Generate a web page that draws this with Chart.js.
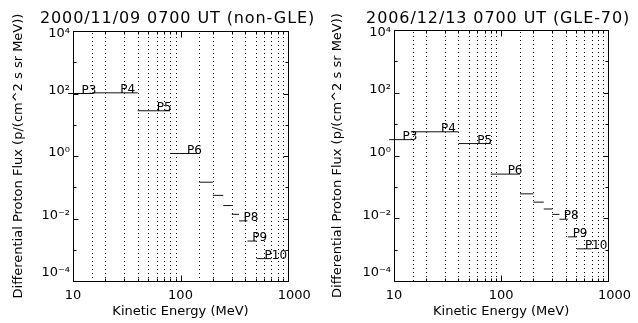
<!DOCTYPE html>
<html>
<head>
<meta charset="utf-8">
<script src="https://cdn.jsdelivr.net/npm/chart.js@4.4.0/dist/chart.umd.min.js"></script>
<style>
body{margin:0;background:#fff;}
#wrap{position:relative;width:638px;height:323px;}
.pane{position:absolute;top:0;width:319px;height:323px;}
</style>
</head>
<body>
<div id="wrap">
  <div class="pane" style="left:0"><canvas id="leftChart" width="319" height="323"></canvas></div>
  <div class="pane" style="left:319px"><canvas id="rightChart" width="319" height="323"></canvas></div>
</div>
<script>
// チャンネル名とエネルギー範囲 (MeV)
const chanNames = ['P3', 'P4', 'P5', 'P6', '', '', '', '', 'P8', 'P9', 'P10'];
const eLow  = [9, 15, 40, 80, 150, 200, 250, 300, 350, 420, 510];
const eHigh = [15, 40, 80, 150, 200, 250, 300, 350, 420, 510, 700];

// 各チャンネルのフラックス (p/(cm^2 s sr MeV))
const fluxNonGle = [100, 105, 28, 1.2, 0.145, 0.055, 0.026, 0.0136, 0.0084, 0.0019, 0.00052];
const fluxGle70  = [3.2, 5.7, 2.4, 0.255, 0.06, 0.0326, 0.0197, 0.0133, 0.0093, 0.00255, 0.00106];

// 軸の目盛り
const xTickVals = [10, 100, 1000];
const xTickLabels = ['10', '100', '1000'];
const xMinorVals = [20, 30, 40, 50, 60, 70, 80, 90, 200, 300, 400, 500, 600, 700, 800, 900];
const yTickVals = [1e-4, 1e-2, 1, 1e2, 1e4];
const yTickLabels = ['10⁻⁴', '10⁻²', '10⁰', '10²', '10⁴'];
const yMinorVals = [1e-3, 1e-1, 10, 1e3];
// 点線のグリッド
const gridVals = [15, 20, 30, 40, 50, 60, 70, 80, 90, 150, 200, 300, 400, 500, 600, 700, 800, 900];

const FONT = 'DejaVu Sans';

// 水平線のデータを作る(線と線の間はnullで切る)
let segData = function(flux) {
  let pts = [];
  for (let i = 0; i < eLow.length; i++) {
    pts.push({x: eLow[i], y: flux[i]});
    pts.push({x: eHigh[i], y: flux[i]});
    pts.push({x: eHigh[i], y: null});
  }
  return pts;
};

// IDL風の枠・目盛り・点線・チャンネル名・タイトル
const idlAxes = {
  id: 'idlAxes',
  beforeDatasetsDraw(chart) {
    const {ctx, chartArea: a, scales: {x}} = chart;
    ctx.save();
    ctx.strokeStyle = '#000';
    ctx.lineWidth = 1;
    ctx.setLineDash([1, 3]);
    gridVals.forEach(v => {
      let px = Math.round(x.getPixelForValue(v)) + 0.5;
      ctx.beginPath();
      ctx.moveTo(px, a.top + 2);
      ctx.lineTo(px, a.bottom);
      ctx.stroke();
    });
    ctx.restore();
  },
  afterDatasetsDraw(chart, args, opts) {
    const {ctx, chartArea: a, scales: {x, y}} = chart;
    let L = Math.round(a.left) + 0.5, R = Math.round(a.right) + 0.5;
    let T = Math.round(a.top) + 0.5, B = Math.round(a.bottom) + 0.5;
    ctx.save();
    ctx.strokeStyle = '#000';
    ctx.lineWidth = 1;
    ctx.setLineDash([]);
    ctx.strokeRect(L, T, R - L, B - T);
    ctx.beginPath();
    let xt = function(v, len) {
      let px = Math.round(x.getPixelForValue(v)) + 0.5;
      ctx.moveTo(px, B); ctx.lineTo(px, B - len);
      ctx.moveTo(px, T); ctx.lineTo(px, T + len);
    };
    let yt = function(v, len) {
      let py = Math.round(y.getPixelForValue(v)) + 0.5;
      ctx.moveTo(L, py); ctx.lineTo(L + len, py);
      ctx.moveTo(R, py); ctx.lineTo(R - len, py);
    };
    xTickVals.forEach(v => xt(v, 6));
    xMinorVals.forEach(v => xt(v, 3));
    yTickVals.forEach(v => yt(v, 5));
    yMinorVals.forEach(v => yt(v, 3));
    ctx.stroke();
    // チャンネル名
    ctx.fillStyle = '#000';
    ctx.font = '12px "' + FONT + '"';
    ctx.textAlign = 'left';
    ctx.textBaseline = 'alphabetic';
    let flux = opts.flux;
    for (let i = 0; i < chanNames.length; i++) {
      if (chanNames[i] == '') { continue; }
      let px = x.getPixelForValue((eLow[i] + eHigh[i]) / 2);
      let py = y.getPixelForValue(flux[i]);
      ctx.fillText(chanNames[i], px, py);
    }
    // タイトル(幅を縮めないように自分で描く)
    ctx.font = '16px "' + FONT + '"';
    ctx.letterSpacing = '0.9px';
    ctx.textAlign = 'center';
    ctx.textBaseline = 'middle';
    ctx.fillText(opts.title, (a.left + a.right) / 2 - 3, 19);
    ctx.restore();
  }
};

let makeChart = function(id, title, flux, areaLeft, areaTop, areaRight) {
  return new Chart(document.getElementById(id), {
    type: 'line',
    data: {
      datasets: [{
        data: segData(flux),
        borderColor: '#111',
        borderWidth: 1,
        pointRadius: 0,
        spanGaps: false,
        tension: 0,
        clip: false
      }]
    },
    options: {
      responsive: false,
      animation: false,
      devicePixelRatio: 1,
      layout: { padding: { left: 0, right: 319 - areaRight, top: areaTop, bottom: 0 } },
      plugins: {
        legend: { display: false },
        tooltip: { enabled: false },
        title: { display: false },
        idlAxes: { flux: flux, title: title }
      },
      scales: {
        x: {
          type: 'logarithmic',
          min: 10,
          max: 1000,
          grid: { display: false, drawTicks: false },
          border: { display: false },
          afterBuildTicks: function(s) { s.ticks = xTickVals.map(v => ({value: v})); },
          afterFit: function(s) { s.height = 323 - 281; },
          ticks: {
            // 1000だけ少し右にずれている
            callback: function(v, i) { return i == xTickLabels.length - 1 ? '   ' + xTickLabels[i] : xTickLabels[i]; },
            autoSkip: false,
            maxRotation: 0,
            padding: 7,
            color: '#000',
            font: { family: FONT, size: 13 }
          },
          title: {
            display: true,
            text: 'Kinetic Energy (MeV)',
            color: '#000',
            font: { family: FONT, size: 13 },
            padding: { top: 0, bottom: 4 }
          }
        },
        y: {
          type: 'logarithmic',
          min: 1e-4,
          max: 1e4,
          grid: { display: false, drawTicks: false },
          border: { display: false },
          afterBuildTicks: function(s) { s.ticks = yTickVals.map(v => ({value: v})); },
          afterFit: function(s) { s.width = areaLeft; },
          ticks: {
            // 一番上は下へ、一番下は上へずらす
            callback: function(v, i) {
              if (i == 0) { return [yTickLabels[i], '']; }
              if (i == yTickLabels.length - 1) { return ['', yTickLabels[i]]; }
              return yTickLabels[i];
            },
            autoSkip: false,
            padding: 3,
            labelOffset: -3,
            color: '#000',
            font: { family: FONT, size: 13, lineHeight: 0.85 }
          },
          title: {
            display: true,
            text: 'Differential Proton Flux (p/(cm^2 s sr MeV))',
            color: '#000',
            font: { family: FONT, size: 13 },
            padding: { top: 11, bottom: 0 }
          }
        }
      }
    },
    plugins: [idlAxes]
  });
};

makeChart('leftChart', '2000/11/09 0700 UT (non-GLE)', fluxNonGle, 73, 31, 288);
makeChart('rightChart', '2006/12/13 0700 UT (GLE-70)', fluxGle70, 75, 30, 290);
</script>
</body>
</html>
